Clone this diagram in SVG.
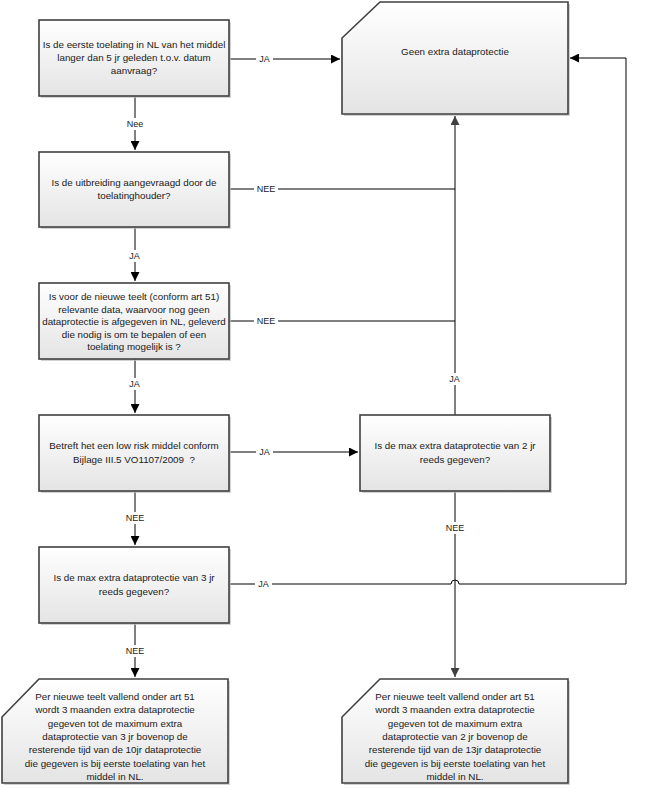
<svg xmlns="http://www.w3.org/2000/svg" width="656" height="796" viewBox="0 0 656 796">
<defs>
<linearGradient id="g" x1="0" y1="0" x2="0" y2="1">
<stop offset="0" stop-color="#ffffff"/>
<stop offset="1" stop-color="#e4e4e4"/>
</linearGradient>
<marker id="ah" viewBox="0 0 10 10" refX="10" refY="5" markerWidth="9" markerHeight="9" markerUnits="userSpaceOnUse" orient="auto">
<path d="M0,0 L10,5 L0,10 z" fill="#000"/>
</marker>
<marker id="ahg" viewBox="0 0 10 10" refX="10" refY="5" markerWidth="9" markerHeight="9" markerUnits="userSpaceOnUse" orient="auto">
<path d="M0,0 L10,5 L0,10 z" fill="#404040"/>
</marker>
</defs>
<style>
.box{fill:url(#g);stroke:#404040;stroke-width:1.6}
.sh{fill:#bfbfbf;opacity:0.7}
.t{font-family:"Liberation Sans",Arial,sans-serif;font-size:9.8px;fill:#1a1a1a;text-anchor:middle}
.c{fill:none;stroke:#000;stroke-width:1}
.lb{font-family:"Liberation Sans",Arial,sans-serif;font-size:9px;fill:#1a1a1a;text-anchor:middle}
.bg{fill:#fff}
</style>
<rect width="656" height="796" fill="#fff"/>

<g id="connectors">
<path class="c" d="M229,59 H340" marker-end="url(#ah)"/>
<path class="c" d="M135,96 V150" marker-end="url(#ah)"/>
<path class="c" d="M229,189 H455"/>
<path class="c" d="M135,227 V281" marker-end="url(#ah)"/>
<path class="c" d="M229,321 H455"/>
<path class="c" d="M135,359 V413" marker-end="url(#ah)"/>
<path class="c" d="M229,452 H358" marker-end="url(#ah)"/>
<path class="c" d="M455,415 V116" stroke="#404040" marker-end="url(#ahg)"/>
<path class="c" d="M135,491 V545" marker-end="url(#ah)"/>
<path class="c" d="M455,491 V677" stroke="#404040" marker-end="url(#ahg)"/>
<path class="c" d="M229,584 H451 A4,4 0 0 1 459,584 H626 V58 H570" marker-end="url(#ah)"/>
<path class="c" d="M135,623 V677" marker-end="url(#ah)"/>
<rect class="bg" x="256" y="53" width="17" height="12"/><text class="lb" x="264.5" y="62">JA</text>
<rect class="bg" x="123" y="118" width="24" height="12"/><text class="lb" x="135" y="127">Nee</text>
<rect class="bg" x="254" y="183" width="24" height="12"/><text class="lb" x="266" y="192">NEE</text>
<rect class="bg" x="126" y="250" width="17" height="12"/><text class="lb" x="134.5" y="259">JA</text>
<rect class="bg" x="254" y="315" width="24" height="12"/><text class="lb" x="266" y="324">NEE</text>
<rect class="bg" x="126" y="378" width="17" height="12"/><text class="lb" x="134.5" y="387">JA</text>
<rect class="bg" x="446" y="373" width="17" height="12"/><text class="lb" x="454.5" y="382">JA</text>
<rect class="bg" x="256" y="446" width="17" height="12"/><text class="lb" x="264.5" y="455">JA</text>
<rect class="bg" x="123" y="512" width="24" height="12"/><text class="lb" x="135" y="521">NEE</text>
<rect class="bg" x="443" y="522" width="24" height="12"/><text class="lb" x="455" y="531">NEE</text>
<rect class="bg" x="255" y="578" width="17" height="12"/><text class="lb" x="263.5" y="587">JA</text>
<rect class="bg" x="123" y="645" width="24" height="12"/><text class="lb" x="135" y="654">NEE</text>
</g>

<g id="n1">
<rect class="sh" x="41" y="22" width="190" height="76"/>
<rect class="box" x="39" y="20" width="190" height="76"/>
<text class="t" x="134" y="48">Is de eerste toelating in NL van het middel</text>
<text class="t" x="134" y="61">langer dan 5 jr geleden t.o.v. datum</text>
<text class="t" x="134" y="74">aanvraag?</text>
</g>

<g id="n_geen">
<path class="sh" d="M382,4 H570 V116 H344 V40 z"/>
<path class="box" d="M380,2 H568 V114 H342 V38 z"/>
<text class="t" x="455" y="55">Geen extra dataprotectie</text>
</g>

<g id="n2">
<rect class="sh" x="41" y="154" width="190" height="75"/>
<rect class="box" x="39" y="152" width="190" height="75"/>
<text class="t" x="134" y="186">Is de uitbreiding aangevraagd door de</text>
<text class="t" x="134" y="199">toelatinghouder?</text>
</g>

<g id="n3">
<rect class="sh" x="41" y="285" width="190" height="76"/>
<rect class="box" x="39" y="283" width="190" height="76"/>
<text class="t" x="134" y="300">Is voor de nieuwe teelt (conform art 51)</text>
<text class="t" x="134" y="312.5">relevante data, waarvoor nog geen</text>
<text class="t" x="134" y="325">dataprotectie is afgegeven in NL, geleverd</text>
<text class="t" x="134" y="337.5">die nodig is om te bepalen of een</text>
<text class="t" x="134" y="350">toelating mogelijk is ?</text>
</g>

<g id="n4">
<rect class="sh" x="41" y="417" width="190" height="76"/>
<rect class="box" x="39" y="415" width="190" height="76"/>
<text class="t" x="134" y="449">Betreft het een low risk middel conform</text>
<text class="t" x="134" y="463">Bijlage III.5 VO1107/2009&#160; ?</text>
</g>

<g id="n5">
<rect class="sh" x="362" y="417" width="190" height="76"/>
<rect class="box" x="360" y="415" width="190" height="76"/>
<text class="t" x="455" y="449">Is de max extra dataprotectie van 2 jr</text>
<text class="t" x="455" y="463">reeds gegeven?</text>
</g>

<g id="n6">
<rect class="sh" x="41" y="549" width="190" height="76"/>
<rect class="box" x="39" y="547" width="190" height="76"/>
<text class="t" x="134" y="581">Is de max extra dataprotectie van 3 jr</text>
<text class="t" x="134" y="595">reeds gegeven?</text>
</g>

<g id="n7">
<path class="sh" d="M41,681 H230 V785 H4 V719 z"/>
<path class="box" d="M39,679 H228 V783 H2 V717 z"/>
<text class="t" x="115" y="700">Per nieuwe teelt vallend onder art 51</text>
<text class="t" x="115" y="713.3">wordt 3 maanden extra dataprotectie</text>
<text class="t" x="115" y="726.6">gegeven tot de maximum extra</text>
<text class="t" x="115" y="739.9">dataprotectie van 3 jr bovenop de</text>
<text class="t" x="115" y="753.2">resterende tijd van de 10jr dataprotectie</text>
<text class="t" x="115" y="766.5">die gegeven is bij eerste toelating van het</text>
<text class="t" x="115" y="779.8">middel in NL.</text>
</g>

<g id="n8">
<path class="sh" d="M382,681 H570 V785 H344 V719 z"/>
<path class="box" d="M380,679 H568 V783 H342 V717 z"/>
<text class="t" x="455" y="700">Per nieuwe teelt vallend onder art 51</text>
<text class="t" x="455" y="713.3">wordt 3 maanden extra dataprotectie</text>
<text class="t" x="455" y="726.6">gegeven tot de maximum extra</text>
<text class="t" x="455" y="739.9">dataprotectie van 2 jr bovenop de</text>
<text class="t" x="455" y="753.2">resterende tijd van de 13jr dataprotectie</text>
<text class="t" x="455" y="766.5">die gegeven is bij eerste toelating van het</text>
<text class="t" x="455" y="779.8">middel in NL.</text>
</g>
</svg>
